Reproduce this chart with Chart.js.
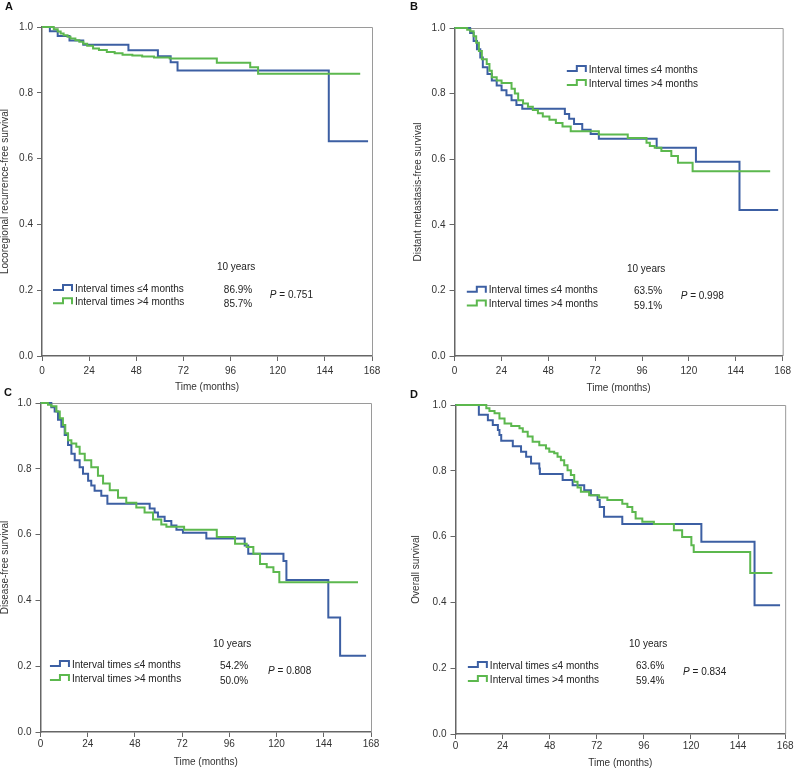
<!DOCTYPE html>
<html>
<head>
<meta charset="utf-8">
<script src="https://cdn.jsdelivr.net/npm/chart.js@4.4.0/dist/chart.umd.min.js"></script>
<style>
  body { margin: 0; background: #fff; width: 795px; height: 770px; overflow: hidden; position: relative; }
  canvas { position: absolute; }
  .tag { position: absolute; z-index: 2; font: bold 11px/11px "Liberation Sans", Arial, sans-serif; color: #111; }
</style>
</head>
<body>
<canvas id="chartA" width="400" height="395" style="left:0;top:0"></canvas>
<canvas id="chartB" width="385" height="395" style="left:410px;top:0"></canvas>
<canvas id="chartC" width="400" height="380" style="left:0;top:390px"></canvas>
<canvas id="chartD" width="385" height="380" style="left:410px;top:390px"></canvas>
<div class="tag" style="left:5px;top:1px">A</div>
<div class="tag" style="left:410px;top:1px">B</div>
<div class="tag" style="left:4px;top:387px">C</div>
<div class="tag" style="left:410px;top:389px">D</div>
<script>
var monthTicks = [0, 24, 48, 72, 96, 120, 144, 168];
var survivalTicks = [0, 0.2, 0.4, 0.6, 0.8, 1.0];
var groupLabels = ['Interval times \u22644 months', 'Interval times >4 months'];
var groupColors = ['#3c5fa3', '#5cb84e'];

// [month, survival after the step]
var aShort = [[0,1],[4,.987],[8,.973],[14,.959],[21,.946],[44,.929],[59,.911],[65.5,.893],[69,.868],[146,.653],[166,.653]];
var aLong = [[0,1],[6,.993],[8,.986],[9.5,.980],[11,.975],[13,.970],[14.5,.965],[17,.960],[19,.955],[21,.949],[23,.943],[26,.935],
  [29,.930],[33,.924],[37,.920],[41,.916],[46,.913],[51,.910],[57,.907],[65,.904],[89,.891],[106,.878],[110,.858],[162,.858]];

var bShort = [[0,1],[8,.985],[9.8,.96],[11.5,.935],[13.2,.91],[14.5,.88],[16.9,.86],[19.1,.84],[21.6,.825],[24.1,.81],[26.6,.795],
  [29.2,.78],[31.7,.765],[34.7,.754],[56.5,.738],[58.7,.723],[61.2,.707],[65.4,.69],[69.7,.677],[73.9,.662],[103.5,.635],
  [123.6,.592],[145.9,.445],[165.7,.445]];
var bLong = [[0,1],[6.5,.995],[8.1,.99],[9.8,.975],[11.1,.955],[12.5,.93],[14,.905],[16.5,.89],[17.9,.87],[19.1,.85],[21.6,.84],
  [24.1,.832],[29.2,.815],[30.9,.80],[32.6,.78],[35.1,.77],[37.6,.76],[40.1,.75],[42.7,.74],[45.2,.73],[48.6,.72],[51.9,.71],
  [55.3,.70],[59.5,.685],[73.9,.675],[88.7,.665],[98.3,.65],[100,.64],[102.5,.635],[105.9,.625],[111,.61],[114.4,.589],
  [121.9,.563],[161.6,.563]];

var cShort = [[0,1],[5.5,.987],[7.2,.974],[8.9,.949],[10.6,.928],[12.3,.903],[14,.872],[15.7,.846],[17.4,.826],[19.9,.805],
  [21.6,.785],[24.2,.764],[25.8,.749],[27.5,.733],[30.9,.718],[34,.694],[55.5,.679],[58,.667],[59.7,.654],[63.1,.641],
  [66.5,.628],[69.1,.615],[72.4,.606],[84.3,.588],[103.8,.567],[105.6,.542],[123.5,.52],[125,.462],[146.3,.348],
  [152.3,.232],[165.5,.232]];
var cLong = [[0,1],[3.8,.995],[5.5,.99],[8.1,.974],[9.8,.954],[11.4,.933],[12.6,.908],[14,.887],[15.7,.877],[18.2,.867],
  [19.9,.846],[22.5,.826],[25.8,.805],[29.2,.779],[31.8,.755],[35.2,.735],[39.4,.712],[43.6,.697],[48.7,.682],[52.9,.667],
  [57.2,.646],[61.4,.631],[64,.624],[73,.615],[89.6,.593],[98.9,.572],[104.8,.562],[108.2,.542],[111.6,.511],[115,.501],
  [118.4,.486],[121.4,.455],[161.4,.455]];

var dShort = [[0,1],[11.9,.970],[16.5,.954],[19,.939],[21.6,.924],[22.4,.909],[23.3,.891],[29.2,.875],[33.4,.858],[36,.843],
  [38.5,.822],[42.7,.807],[43,.79],[54.6,.772],[59.7,.756],[65.6,.741],[69,.726],[72.4,.711],[73.5,.690],[75.7,.660],
  [85,.638],[125.3,.584],[152.4,.391],[165.4,.391]];
var dLong = [[0,1],[15.7,.99],[17.3,.982],[19.9,.975],[22.4,.959],[25,.944],[28.4,.936],[32.6,.929],[34.3,.919],[36.8,.904],
  [39.3,.888],[42.7,.878],[46.1,.868],[47.8,.858],[50.3,.853],[52,.843],[53.7,.832],[55.4,.817],[57.1,.802],[58.8,.787],
  [60.5,.767],[62.2,.749],[63.9,.736],[68.1,.726],[73.2,.719],[77.4,.711],[85,.70],[87.6,.69],[90.1,.675],[91.8,.655],
  [95.2,.645],[101.1,.638],[111.3,.619],[115.5,.599],[120.2,.574],[121.4,.553],[150.2,.489],[161.5,.489]];

var tenYearA = ['86.9%', '85.7%'], pValueA = '0.751';
var tenYearB = ['63.5%', '59.1%'], pValueB = '0.998';
var tenYearC = ['54.2%', '50.0%'], pValueC = '0.808';
var tenYearD = ['63.6%', '59.4%'], pValueD = '0.834';

var FONT = '"Liberation Sans", Arial, sans-serif';

function drawKeys(c, x, ys) {
  ys.forEach(function (y, i) {
    c.strokeStyle = groupColors[i];
    c.lineWidth = 2;
    c.beginPath();
    c.moveTo(x, y + 1);
    c.lineTo(x + 10, y + 1);
    c.lineTo(x + 10, y - 4);
    c.lineTo(x + 19, y - 4);
    c.lineTo(x + 19, y + 2);
    c.stroke();
    c.fillStyle = '#222';
    c.textAlign = 'left';
    c.fillText(groupLabels[i], x + 22, y);
  });
}

var kmNotes = {
  id: 'kmNotes',
  beforeDatasetsDraw: function (chart) {
    var c = chart.ctx, a = chart.chartArea;
    c.save();
    c.strokeStyle = '#9a9a9a';
    c.lineWidth = 1;
    c.beginPath();
    c.moveTo(a.left, a.top + 0.5);
    c.lineTo(a.right + 0.5, a.top + 0.5);
    c.lineTo(a.right + 0.5, a.bottom);
    c.stroke();
    c.restore();
  },
  afterDatasetsDraw: function (chart, args, o) {
    var c = chart.ctx, xs = chart.scales.x, ys = chart.scales.y;
    function px(v) { return xs.getPixelForValue(v); }
    function py(v) { return ys.getPixelForValue(v); }
    c.save();
    c.font = '10px ' + FONT;
    c.textBaseline = 'middle';
    o.keys.forEach(function (k) { drawKeys(c, px(k.x), [py(k.y[0]), py(k.y[1])]); });
    c.fillStyle = '#222';
    c.textAlign = 'center';
    c.fillText('10 years', px(o.year.x), py(o.year.y));
    c.fillText(o.pct.text[0], px(o.pct.x), py(o.pct.y[0]));
    c.fillText(o.pct.text[1], px(o.pct.x), py(o.pct.y[1]));
    c.textAlign = 'left';
    c.font = 'italic 10px ' + FONT;
    var x0 = px(o.p.x), y0 = py(o.p.y);
    c.fillText('P', x0, y0);
    var w = c.measureText('P').width;
    c.font = '10px ' + FONT;
    c.fillText(' = ' + o.p.text, x0 + w, y0);
    c.restore();
  }
};

function makeChart(id, curves, yTitle, box, notes) {
  var ctx = document.getElementById(id).getContext('2d');
  return new Chart(ctx, {
    type: 'line',
    data: {
      datasets: curves.map(function (curve, i) {
        return {
          label: groupLabels[i],
          data: curve.map(function (p) { return { x: p[0], y: p[1] }; }),
          borderColor: groupColors[i],
          borderWidth: 2,
          stepped: true,
          pointRadius: 0,
          fill: false,
          clip: false,
          order: i === 0 ? 1 : 0
        };
      })
    },
    options: {
      responsive: false,
      animation: false,
      events: [],
      layout: { padding: { top: box.top, right: box.right, left: 0, bottom: 0 } },
      plugins: {
        legend: { display: false },
        tooltip: { enabled: false },
        kmNotes: notes
      },
      scales: {
        x: {
          type: 'linear',
          min: 0,
          max: 168,
          afterBuildTicks: function (s) { s.ticks = monthTicks.map(function (v) { return { value: v }; }); },
          afterFit: function (s) { s.height = box.xh; },
          ticks: { padding: box.xtp, autoSkip: false, maxRotation: 0, color: '#333', font: { family: FONT, size: 10 } },
          grid: { drawOnChartArea: false, tickLength: 5, color: '#666' },
          border: { color: '#666', width: 1.5 },
          title: { display: true, text: 'Time (months)', color: '#333', padding: { top: 0, bottom: box.xtt }, font: { family: FONT, size: 10 } }
        },
        y: {
          min: 0,
          max: 1,
          afterBuildTicks: function (s) { s.ticks = survivalTicks.map(function (v) { return { value: v }; }); },
          afterFit: function (s) { s.width = box.yw; },
          ticks: { padding: 4, color: '#333', font: { family: FONT, size: 10 },
            callback: function (v) { return v.toFixed(1); } },
          grid: { drawOnChartArea: false, tickLength: 5, color: '#666' },
          border: { color: '#666', width: 1.5 },
          title: { display: true, text: yTitle, color: '#333', padding: { top: box.ytt, bottom: 0 }, font: { family: FONT, size: 10, lineHeight: 1 } }
        }
      }
    },
    plugins: [kmNotes]
  });
}

makeChart('chartA', [aShort, aLong], 'Locoregional recurrence-free survival',
  { top: 27, right: 28, yw: 42, xh: 39, xtp: 4, xtt: 2, ytt: 0 },
  { keys: [{ x: 5.6, y: [0.204, 0.163] }], year: { x: 98.8, y: 0.27 },
    pct: { x: 99.8, y: [0.20, 0.158], text: tenYearA }, p: { x: 116, y: 0.185, text: pValueA } });

makeChart('chartB', [bShort, bLong], 'Distant metastasis-free survival',
  { top: 28, right: 9, yw: 44.5, xh: 39, xtp: 4, xtt: 1, ytt: 3 },
  { keys: [{ x: 6.3, y: [0.199, 0.157] }, { x: 57.5, y: [0.872, 0.829] }], year: { x: 98.1, y: 0.265 },
    pct: { x: 99.1, y: [0.198, 0.152], text: tenYearB }, p: { x: 115.8, y: 0.183, text: pValueB } });

makeChart('chartC', [cShort, cLong], 'Disease-free survival',
  { top: 13, right: 29, yw: 40.5, xh: 38, xtp: 1, xtt: 2, ytt: 0 },
  { keys: [{ x: 4.8, y: [0.204, 0.161] }], year: { x: 97.4, y: 0.267 },
    pct: { x: 98.4, y: [0.201, 0.155], text: tenYearC }, p: { x: 115.7, y: 0.186, text: pValueC } });

makeChart('chartD', [dShort, dLong], 'Overall survival',
  { top: 15, right: 8.3, yw: 45.5, xh: 36, xtp: 1.5, xtt: 1, ytt: 1 },
  { keys: [{ x: 6.3, y: [0.207, 0.164] }], year: { x: 98.2, y: 0.274 },
    pct: { x: 99.2, y: [0.207, 0.161], text: tenYearD }, p: { x: 116, y: 0.188, text: pValueD } });
</script>
</body>
</html>
